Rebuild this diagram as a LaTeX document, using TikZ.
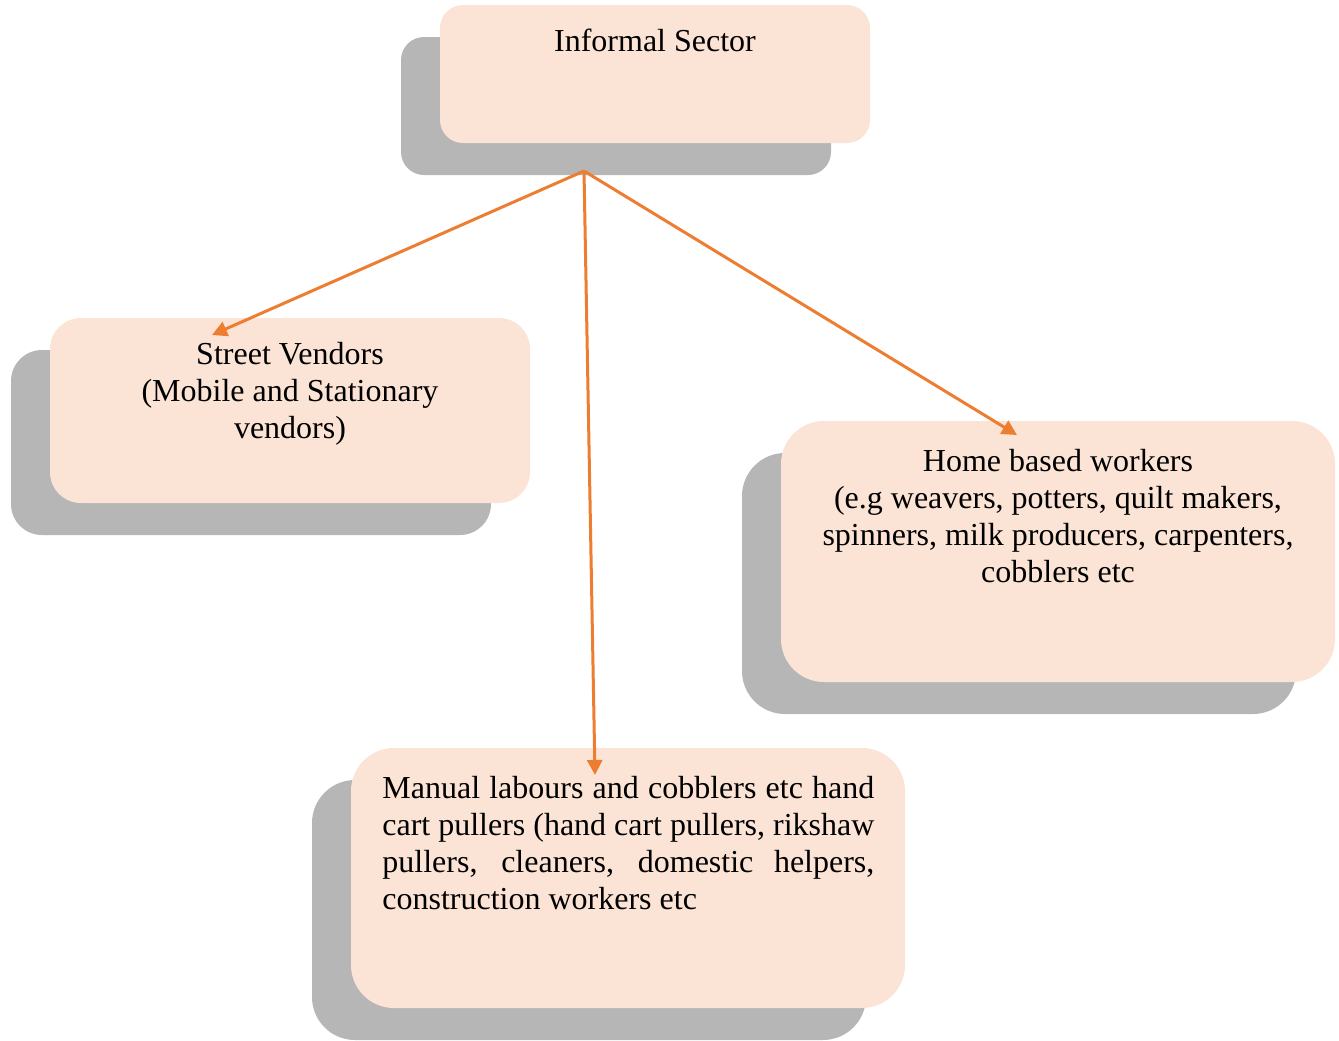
\documentclass[tikz,border=0pt]{standalone}
\usepackage{fontspec}
\setmainfont{Liberation Serif}
\usetikzlibrary{arrows.meta,shadows}

\definecolor{boxfill}{HTML}{FBE4D5}
\definecolor{shadowgray}{HTML}{B6B6B6}
\definecolor{linkorange}{HTML}{ED7D31}

\tikzset{
  sectorbox/.style={fill=boxfill, draw=none, inner sep=0pt,
    copy shadow={shadow xshift=-19.5pt, shadow yshift=-16pt, fill=shadowgray, draw=none}},
  boxtext/.style={inner sep=0pt, anchor=north, align=center,
    font=\fontsize{16}{18.5}\selectfont},
  link/.style={draw=linkorange, line width=1.5pt, -{Triangle[length=7.5pt,width=7.5pt]}}
}

\begin{document}
\begin{tikzpicture}[x=0.5pt,y=-0.5pt]

  \useasboundingbox (0,0) rectangle (1339,1040);

  % Boxes with their grey shadows.
  \node[sectorbox, minimum width=215pt, minimum height=69pt, rounded corners=11.5pt] (sector) at (655,74) {};
  \node[sectorbox, minimum width=240pt, minimum height=92.5pt, rounded corners=15.5pt] (street) at (290,410.5) {};
  \node[sectorbox, minimum width=277pt, minimum height=130.5pt, rounded corners=21.5pt] (home) at (1058,551.5) {};
  \node[sectorbox, minimum width=277pt, minimum height=130pt, rounded corners=21.5pt] (manual) at (628,878) {};

  % Text annotations
  \node[boxtext] (sectortext) at (655,29) {Informal Sector};
  \node[boxtext] (streettext) at (290,342) {Street Vendors\\(Mobile and Stationary\\vendors)};
  \node[boxtext] (hometext) at (1058,449) {Home based workers\\(e.g weavers, potters, quilt makers,\\spinners, milk producers, carpenters,\\cobblers etc};
  \node[boxtext, anchor=north west, align=justify, text width=246pt] (manualtext) at (382,776)
    {Manual labours and cobblers etc hand\linebreak cart pullers (hand cart pullers, rikshaw\linebreak pullers, cleaners, domestic helpers,\linebreak construction workers etc};

  % Arrows from the fork point.
  \coordinate (fork) at (584,171);
  \coordinate (streettip) at (212,335);
  \coordinate (manualtip) at (595,775);
  \coordinate (hometip) at (1017,435);
  \draw[link] (fork) -- (streettip);
  \draw[link] (fork) -- (manualtip);
  \draw[link] (fork) -- (hometip);

\end{tikzpicture}
\end{document}
